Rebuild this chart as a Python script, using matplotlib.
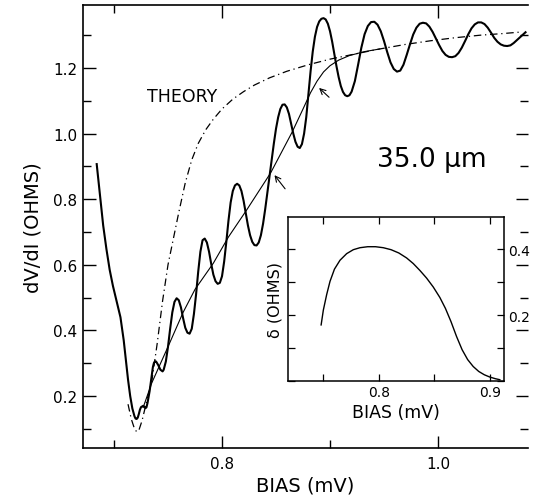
import numpy as np
import matplotlib
matplotlib.use("Agg")
import matplotlib.pyplot as plt
from matplotlib.ticker import MultipleLocator

bias_meas = [0.684, 0.686, 0.688, 0.690, 0.693, 0.696, 0.699, 0.702, 0.706, 0.709,
             0.711, 0.713, 0.715, 0.717, 0.719, 0.720, 0.721, 0.722, 0.723, 0.724,
             0.725, 0.727, 0.728, 0.729, 0.730, 0.731, 0.733, 0.735, 0.736, 0.737,
             0.738, 0.739, 0.741, 0.743, 0.745, 0.746, 0.748, 0.750, 0.752, 0.754,
             0.756, 0.758, 0.760, 0.762, 0.764, 0.766, 0.768, 0.770, 0.772, 0.774,
             0.776, 0.778, 0.780, 0.782, 0.784, 0.786, 0.788, 0.790, 0.792, 0.794,
             0.796, 0.798, 0.800, 0.802, 0.804, 0.806, 0.808, 0.810, 0.812, 0.814,
             0.816, 0.818, 0.820, 0.822, 0.824, 0.826, 0.828, 0.830, 0.832, 0.834,
             0.836, 0.838, 0.840, 0.842, 0.844, 0.846, 0.848, 0.850, 0.852, 0.854,
             0.856, 0.858, 0.860, 0.862, 0.864, 0.866, 0.868, 0.870, 0.872, 0.874,
             0.876, 0.878, 0.880, 0.882, 0.884, 0.886, 0.888, 0.890, 0.892, 0.894,
             0.896, 0.898, 0.900, 0.902, 0.904, 0.906, 0.908, 0.910, 0.912, 0.914,
             0.916, 0.918, 0.920, 0.923, 0.926, 0.929, 0.932, 0.935, 0.938, 0.941,
             0.944, 0.947, 0.950, 0.953, 0.956, 0.959, 0.962, 0.965, 0.968, 0.971,
             0.974, 0.977, 0.980, 0.983, 0.986, 0.989, 0.992, 0.995, 0.998, 1.001,
             1.004, 1.007, 1.010, 1.013, 1.016, 1.019, 1.022, 1.025, 1.028, 1.031,
             1.034, 1.037, 1.040, 1.043, 1.046, 1.049, 1.052, 1.055, 1.058, 1.061,
             1.064, 1.067, 1.070, 1.074, 1.078, 1.081]
dvdi_meas = [0.907, 0.845, 0.780, 0.720, 0.648, 0.585, 0.536, 0.495, 0.440, 0.370,
             0.310, 0.250, 0.200, 0.162, 0.138, 0.131, 0.130, 0.134, 0.145, 0.158,
             0.166, 0.170, 0.168, 0.163, 0.165, 0.178, 0.215, 0.265, 0.288, 0.301,
             0.306, 0.305, 0.294, 0.280, 0.275, 0.280, 0.305, 0.350, 0.405, 0.455,
             0.487, 0.498, 0.492, 0.470, 0.437, 0.408, 0.393, 0.390, 0.405, 0.450,
             0.510, 0.580, 0.640, 0.675, 0.680, 0.668, 0.640, 0.603, 0.570, 0.550,
             0.542, 0.545, 0.565, 0.610, 0.670, 0.735, 0.790, 0.825, 0.842, 0.847,
             0.842, 0.825, 0.795, 0.758, 0.720, 0.690, 0.670, 0.660, 0.659, 0.668,
             0.690, 0.725, 0.770, 0.820, 0.870, 0.920, 0.970, 1.015, 1.050, 1.075,
             1.088, 1.089, 1.080, 1.060, 1.030, 1.000, 0.975, 0.960, 0.956, 0.968,
             1.000, 1.050, 1.120, 1.190, 1.250, 1.295, 1.325, 1.342, 1.350, 1.352,
             1.348, 1.335, 1.312, 1.280, 1.242, 1.205, 1.172, 1.145, 1.127, 1.117,
             1.114, 1.117, 1.128, 1.160, 1.210, 1.262, 1.303, 1.328, 1.340, 1.341,
             1.332, 1.312, 1.282, 1.248, 1.217, 1.197, 1.189, 1.192, 1.210, 1.240,
             1.272, 1.302, 1.323, 1.335, 1.338, 1.336, 1.326, 1.310, 1.290, 1.270,
             1.252, 1.240, 1.234, 1.233, 1.236, 1.246, 1.262, 1.282, 1.303, 1.321,
             1.333, 1.339, 1.339, 1.334, 1.323, 1.308, 1.292, 1.280, 1.272, 1.268,
             1.267, 1.269, 1.276, 1.288, 1.300, 1.309]

# smooth average (thin solid)
bias_avg = [0.727, 0.735, 0.750, 0.764, 0.775, 0.792, 0.806, 0.823, 0.845, 0.865,
            0.875, 0.882, 0.888, 0.894, 0.900, 0.908, 0.918, 0.932, 0.946]
dvdi_avg = [0.165, 0.240, 0.350, 0.455, 0.525, 0.605, 0.685, 0.768, 0.880, 1.005,
            1.075, 1.125, 1.160, 1.188, 1.207, 1.224, 1.238, 1.250, 1.258]

# theory (dash-dot)
bias_th = [0.713, 0.716, 0.719, 0.721, 0.723, 0.726, 0.730, 0.735, 0.740, 0.745,
           0.750, 0.755, 0.760, 0.766, 0.772, 0.778, 0.785, 0.792, 0.800, 0.810,
           0.820, 0.830, 0.844, 0.860, 0.880, 0.900, 0.925, 0.946, 0.970, 0.993,
           1.015, 1.039, 1.060, 1.078]
dvdi_th = [0.175, 0.130, 0.100, 0.091, 0.095, 0.125, 0.180, 0.245, 0.360, 0.490,
           0.600, 0.680, 0.760, 0.850, 0.920, 0.970, 1.012, 1.044, 1.075, 1.105,
           1.128, 1.148, 1.170, 1.190, 1.210, 1.227, 1.244, 1.258, 1.272, 1.283,
           1.292, 1.300, 1.305, 1.310]

# inset: oscillation amplitude
bias_in = [0.748, 0.750, 0.753, 0.756, 0.760, 0.765, 0.771, 0.777, 0.783, 0.790,
           0.797, 0.804, 0.811, 0.818, 0.825, 0.831, 0.837, 0.843, 0.849, 0.855,
           0.860, 0.865, 0.870, 0.875, 0.880, 0.885, 0.890, 0.895, 0.900, 0.905,
           0.909]
delta_in = [0.170, 0.215, 0.262, 0.302, 0.339, 0.366, 0.386, 0.398, 0.404, 0.407,
            0.407, 0.404, 0.398, 0.388, 0.373, 0.356, 0.335, 0.312, 0.285, 0.253,
            0.220, 0.180, 0.135, 0.095, 0.065, 0.044, 0.029, 0.019, 0.012, 0.007,
            0.004]

fig = plt.figure(figsize=(5.34, 5.02), dpi=100)
ax = fig.add_axes([0.1554, 0.1056, 0.8334, 0.8824])

ax.plot(bias_meas, dvdi_meas, color='black', lw=1.5, solid_joinstyle='round')
ax.plot(bias_avg, dvdi_avg, color='black', lw=0.8, solid_joinstyle='round')
ax.plot(bias_th, dvdi_th, color='black', lw=0.9, dashes=(6, 3, 1, 3))

ax.set_xlim(0.6713, 1.0833)
ax.set_ylim(0.0415, 1.392)
ax.xaxis.set_minor_locator(MultipleLocator(0.1))
ax.yaxis.set_minor_locator(MultipleLocator(0.1))
ax.set_xticks([0.8, 1.0])
ax.set_xticklabels(['0.8', '1.0'])
ax.set_yticks([0.2, 0.4, 0.6, 0.8, 1.0, 1.2])
ax.set_yticklabels(['0.2', '0.4', '0.6', '0.8', '1.0', '1.2'])
ax.tick_params(which='both', direction='in', top=True, right=True, width=1.0,
               labelsize=11)
ax.tick_params(axis='y', pad=4)
ax.tick_params(axis='x', pad=6)
ax.tick_params(which='major', length=9)
ax.tick_params(which='minor', length=6)
ax.spines['right'].set_visible(False)
for s in ['left', 'bottom', 'top']:
    ax.spines[s].set_linewidth(1.2)

ax.set_xlabel('BIAS (mV)', fontsize=14, labelpad=3)
ax.set_ylabel('dV/dI (OHMS)', fontsize=14, labelpad=8)

ax.text(0.731, 1.115, 'THEORY', fontsize=12.5, va='center', ha='left')
ax.text(0.994, 0.922, '35.0 \u03bcm', fontsize=19, va='center', ha='center')

ax.annotate('', xy=(0.847, 0.88), xytext=(0.860, 0.825),
            arrowprops=dict(arrowstyle='->', lw=0.8, color='black'))
ax.annotate('', xy=(0.888, 1.145), xytext=(0.901, 1.105),
            arrowprops=dict(arrowstyle='->', lw=0.8, color='black'))

# inset
ins = fig.add_axes([0.539, 0.239, 0.4045, 0.3267])
ins.plot(bias_in, delta_in, color='black', lw=1.0, solid_joinstyle='round')
ins.set_xlim(0.718, 0.9126)
ins.set_ylim(0.0, 0.497)
ins.set_xticks([0.8, 0.9])
ins.set_xticklabels(['0.8', '0.9'])
ins.xaxis.set_minor_locator(MultipleLocator(0.05))
ins.set_yticks([0.2, 0.4])
ins.set_yticklabels(['0.2', '0.4'])
ins.yaxis.set_minor_locator(MultipleLocator(0.1))
ins.tick_params(which='both', direction='in', top=True, right=True, left=True,
                labelleft=False, labelright=True, labelsize=10, length=5, width=0.9, pad=3)
for s in ins.spines.values():
    s.set_linewidth(1.1)
ins.set_xlabel('BIAS (mV)', fontsize=12.5, labelpad=3)
ins.set_ylabel('\u03b4 (OHMS)', fontsize=11.5, labelpad=4)

fig.savefig('out.png', dpi=100)
